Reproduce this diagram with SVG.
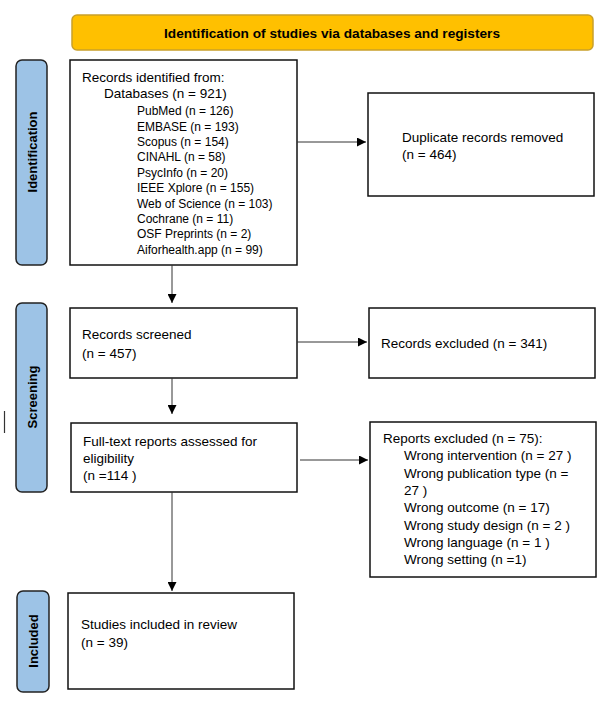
<svg xmlns="http://www.w3.org/2000/svg" width="608" height="704" viewBox="0 0 608 704">
<style>
  text { font-family: "Liberation Sans", Arial, sans-serif; fill: #000; }
  .box { fill: #fff; stroke: #111; stroke-width: 1.5; }
  .side { fill: #9DC3E6; stroke: #222; stroke-width: 1.5; }
  .sidet { font-size: 13px; font-weight: bold; text-anchor: middle; }
  .t { font-size: 13.5px; }
  .s { font-size: 12px; }
  .conn { stroke: #333; stroke-width: 1; fill: none; }
</style>
<defs>
  <marker id="arr" viewBox="0 0 10 10" refX="10" refY="5" markerWidth="9" markerHeight="9" markerUnits="userSpaceOnUse" orient="auto">
    <path d="M0,0 L10,5 L0,10 z" fill="#000"/>
  </marker>
</defs>
<rect width="608" height="704" fill="#fff"/>

<g id="banner">
  <rect x="72" y="15" width="521" height="35" rx="5" fill="#FFC000" stroke="#C9A02A" stroke-width="1.5"/>
  <text x="332" y="37.5" font-size="13" font-weight="bold" text-anchor="middle" textLength="336" lengthAdjust="spacingAndGlyphs">Identification of studies via databases and registers</text>
</g>

<g id="label-identification">
  <rect class="side" x="16" y="60" width="31" height="205" rx="6"/>
  <text class="sidet" transform="translate(36.5,152) rotate(-90)">Identification</text>
</g>
<g id="label-screening">
  <rect class="side" x="16" y="303" width="31" height="189" rx="6"/>
  <text class="sidet" transform="translate(36.5,397) rotate(-90)">Screening</text>
</g>
<g id="label-included">
  <rect class="side" x="17" y="591" width="32" height="101" rx="6"/>
  <text class="sidet" transform="translate(37.5,641) rotate(-90)">Included</text>
</g>

<g id="records-identified">
  <rect class="box" x="70" y="60" width="227" height="205"/>
  <text class="t" x="82" y="81.5">Records identified from:</text>
  <text class="t" x="104" y="98">Databases (n = 921)</text>
  <text class="s" x="137" y="115.3">PubMed (n = 126)</text>
  <text class="s" x="137" y="130.7">EMBASE (n = 193)</text>
  <text class="s" x="137" y="146">Scopus (n = 154)</text>
  <text class="s" x="137" y="161.4">CINAHL (n = 58)</text>
  <text class="s" x="137" y="176.8">PsycInfo (n = 20)</text>
  <text class="s" x="137" y="192.2">IEEE Xplore (n = 155)</text>
  <text class="s" x="137" y="207.5">Web of Science (n = 103)</text>
  <text class="s" x="137" y="222.9">Cochrane (n = 11)</text>
  <text class="s" x="137" y="238.3">OSF Preprints (n = 2)</text>
  <text class="s" x="137" y="253.6">Aiforhealth.app (n = 99)</text>
</g>

<g id="duplicates">
  <rect class="box" x="368" y="93" width="226" height="103"/>
  <text class="t" x="402" y="142">Duplicate records removed</text>
  <text class="t" x="402" y="159">(n = 464)</text>
</g>

<g id="records-screened">
  <rect class="box" x="70" y="308" width="227" height="70"/>
  <text class="t" x="82" y="339">Records screened</text>
  <text class="t" x="82" y="358">(n = 457)</text>
</g>

<g id="records-excluded">
  <rect class="box" x="369" y="308" width="226" height="70"/>
  <text class="t" x="381" y="348">Records excluded (n = 341)</text>
</g>

<g id="fulltext">
  <rect class="box" x="71" y="423" width="226" height="69"/>
  <text class="t" x="83" y="446">Full-text reports assessed for</text>
  <text class="t" x="83" y="463">eligibility</text>
  <text class="t" x="83" y="480">(n =114 )</text>
</g>

<g id="reports-excluded">
  <rect class="box" x="370" y="422" width="226" height="155"/>
  <text class="t" x="383" y="443">Reports excluded (n = 75):</text>
  <text class="t" x="404" y="460.3">Wrong intervention (n = 27 )</text>
  <text class="t" x="404" y="477.6">Wrong publication type (n =</text>
  <text class="t" x="404" y="494.9">27 )</text>
  <text class="t" x="404" y="512.2">Wrong outcome (n = 17)</text>
  <text class="t" x="404" y="529.5">Wrong study design (n = 2 )</text>
  <text class="t" x="404" y="546.8">Wrong language (n = 1 )</text>
  <text class="t" x="404" y="564.1">Wrong setting (n =1)</text>
</g>

<g id="included">
  <rect class="box" x="68" y="593" width="226" height="96"/>
  <text class="t" x="81" y="629">Studies included in review</text>
  <text class="t" x="81" y="647">(n = 39)</text>
</g>

<g id="connectors">
  <line class="conn" x1="297" y1="142" x2="366" y2="142" marker-end="url(#arr)"/>
  <line class="conn" x1="172" y1="265" x2="172" y2="303" marker-end="url(#arr)"/>
  <line class="conn" x1="297" y1="342" x2="367" y2="342" marker-end="url(#arr)"/>
  <line class="conn" x1="172" y1="378" x2="172" y2="414" marker-end="url(#arr)"/>
  <line class="conn" x1="300" y1="460" x2="368" y2="460" marker-end="url(#arr)"/>
  <line class="conn" x1="172" y1="492" x2="172" y2="591" marker-end="url(#arr)"/>
</g>

<line x1="4.5" y1="411" x2="4.5" y2="433" stroke="#333" stroke-width="1.2"/>
</svg>
